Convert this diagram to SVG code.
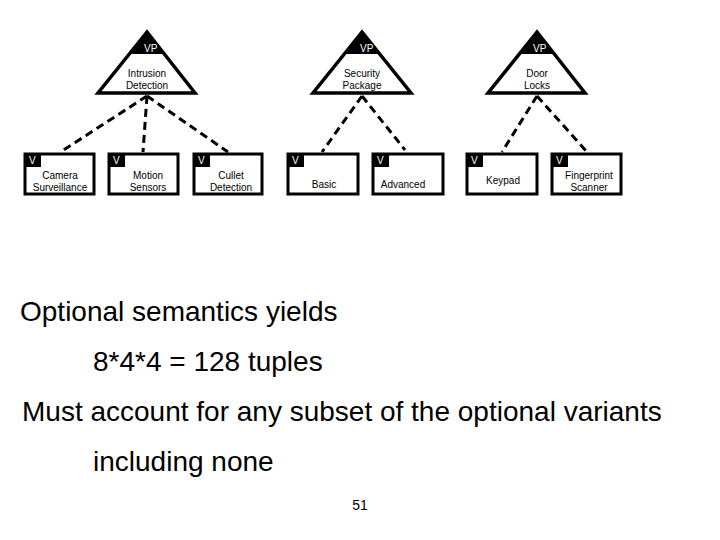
<svg xmlns="http://www.w3.org/2000/svg" width="720" height="540" viewBox="0 0 720 540">
<style>
.tri{fill:#fff;stroke:#000;stroke-width:3.5;stroke-linejoin:miter}
.box{fill:#fff;stroke:#000;stroke-width:3}
.tag{fill:#000}
.t{font-family:"Liberation Sans",Arial,sans-serif;font-size:10px;fill:#000;text-anchor:middle}
.w{font-family:"Liberation Sans",Arial,sans-serif;font-size:10px;fill:#fff}
.big{font-family:"Liberation Sans",Arial,sans-serif;font-size:28px;fill:#000}
.con{stroke:#000;stroke-width:3;stroke-dasharray:8,5;fill:none}
</style>
<rect width="720" height="540" fill="#fff"/>
<g id="connectors">
<line class="con" x1="147" y1="96" x2="62" y2="151"/>
<line class="con" x1="147" y1="96" x2="143" y2="152"/>
<line class="con" x1="147" y1="96" x2="228" y2="152"/>
<line class="con" x1="362" y1="96" x2="322" y2="152"/>
<line class="con" x1="362" y1="96" x2="405" y2="150"/>
<line class="con" x1="537" y1="96" x2="502" y2="152"/>
<line class="con" x1="537" y1="96" x2="587" y2="152"/>
</g>
<g id="vp-intrusion">
<polygon class="tri" points="147,32 98,93 195,93"/>
<polygon class="tag" points="147,32 129,54 165,54"/>
<text class="w" x="144" y="52">VP</text>
<text class="t" x="147" y="77">Intrusion</text><text class="t" x="147" y="89">Detection</text>
</g>
<g id="vp-security">
<polygon class="tri" points="362,32 313,93 411,93"/>
<polygon class="tag" points="362,32 344,54 380,54"/>
<text class="w" x="360" y="52">VP</text>
<text class="t" x="362" y="77">Security</text><text class="t" x="362" y="89">Package</text>
</g>
<g id="vp-door">
<polygon class="tri" points="537,32 488,93 585,93"/>
<polygon class="tag" points="537,32 519,54 555,54"/>
<text class="w" x="533" y="52">VP</text>
<text class="t" x="537" y="77">Door</text><text class="t" x="537" y="89">Locks</text>
</g>
<g id="v-camera"><rect class="box" x="25" y="154" width="69" height="40"/><rect class="tag" x="25" y="154" width="16" height="13"/><text class="w" x="29" y="164">V</text><text class="t" x="60" y="179">Camera</text><text class="t" x="60" y="191">Surveillance</text></g>
<g id="v-motion"><rect class="box" x="109" y="154" width="69" height="40"/><rect class="tag" x="109" y="154" width="16" height="13"/><text class="w" x="113" y="164">V</text><text class="t" x="148" y="179">Motion</text><text class="t" x="148" y="191">Sensors</text></g>
<g id="v-cullet"><rect class="box" x="194" y="154" width="68" height="40"/><rect class="tag" x="194" y="154" width="16" height="13"/><text class="w" x="198" y="164">V</text><text class="t" x="231" y="179">Cullet</text><text class="t" x="231" y="191">Detection</text></g>
<g id="v-basic"><rect class="box" x="288" y="154" width="70" height="40"/><rect class="tag" x="288" y="154" width="16" height="13"/><text class="w" x="292" y="164">V</text><text class="t" x="324" y="188">Basic</text></g>
<g id="v-advanced"><rect class="box" x="373" y="154" width="70" height="40"/><rect class="tag" x="373" y="154" width="16" height="13"/><text class="w" x="377" y="164">V</text><text class="t" x="403" y="188">Advanced</text></g>
<g id="v-keypad"><rect class="box" x="467" y="154" width="70" height="40"/><rect class="tag" x="467" y="154" width="16" height="13"/><text class="w" x="471" y="164">V</text><text class="t" x="503" y="184">Keypad</text></g>
<g id="v-fingerprint"><rect class="box" x="552" y="154" width="69" height="40"/><rect class="tag" x="552" y="154" width="16" height="13"/><text class="w" x="556" y="164">V</text><text class="t" x="589" y="179">Fingerprint</text><text class="t" x="589" y="191">Scanner</text></g>
<text class="big" x="20" y="321">Optional semantics yields</text>
<text class="big" x="93" y="371">8*4*4 = 128 tuples</text>
<text class="big" x="22" y="421">Must account for any subset of the optional variants</text>
<text class="big" x="93" y="471">including none</text>
<text x="360" y="510" font-family="Liberation Sans, Arial, sans-serif" font-size="14" text-anchor="middle">51</text>
</svg>
